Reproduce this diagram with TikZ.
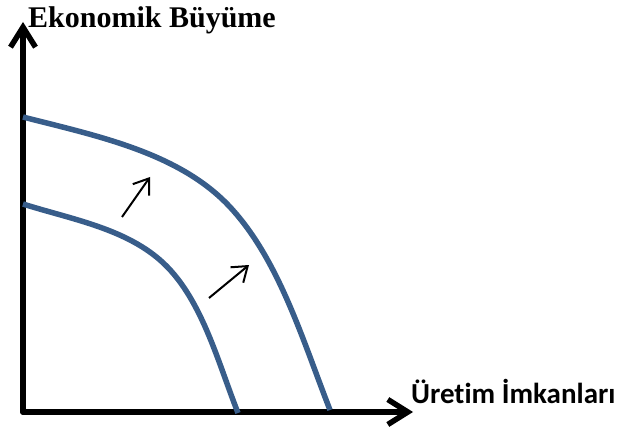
\documentclass[tikz,border=0pt]{standalone}
\usepackage{fontspec}
\setmainfont{Liberation Serif}
\newfontfamily\calfont[Ligatures=NoCommon]{Carlito}
\usepackage{xcolor}
\usepackage{tikz}
\usetikzlibrary{calc,arrows.meta,positioning}
\definecolor{curvec}{HTML}{385D8A}
\tikzset{
  ax/.style={-{Straight Barb[length=20pt,width=25pt,line width=5.5pt]},line width=5.5pt,black,line cap=round,line join=round},
  ar/.style={-{Straight Barb[length=14pt,width=20pt,line width=2pt]},line width=2pt,black},
  ppf/.style={curvec,line width=5.5pt}
}
\begin{document}
\begin{tikzpicture}[x=1pt,y=1pt]
\useasboundingbox (0,0) rectangle (622,432);
\coordinate (O) at (23,20);
\coordinate (Ytip) at (23,410);
\coordinate (Xtip) at (413,20);
\draw[ax] (O)--(Ytip);
\draw[ax] (O)--(Xtip);
\node[anchor=base west,inner sep=0pt,font=\fontsize{30}{30}\selectfont\bfseries] (ylab) at (28,404) {Ekonomik Büyüme};
\node[anchor=base west,inner sep=0pt,font=\fontsize{29}{29}\selectfont\calfont\bfseries] (xlab) at (411,29) {Üretim İmkanları};
% eski ve yeni egriler
\coordinate (p1) at (23,228); \coordinate (p2) at (160,172); \coordinate (p3) at (238,19);
\coordinate (q1) at (23,315); \coordinate (q2) at (230,225); \coordinate (q3) at (330,22);
\draw[ppf] (p1) .. controls (69.7,213.2) and (123,204.2) .. (p2)
  .. controls (201,136.3) and (217.1,72) .. (p3);
\draw[ppf] (q1) .. controls (95.6,296.3) and (179,279.8) .. (q2)
  .. controls (279,172.4) and (302.7,91.8) .. (q3);
\coordinate (a1) at (122,215); \coordinate (b1) at (150,255);
\coordinate (a2) at (209,134); \coordinate (b2) at (249,167);
\draw[ar] (a1)--(b1);
\draw[ar] (a2)--(b2);
\end{tikzpicture}
\end{document}
